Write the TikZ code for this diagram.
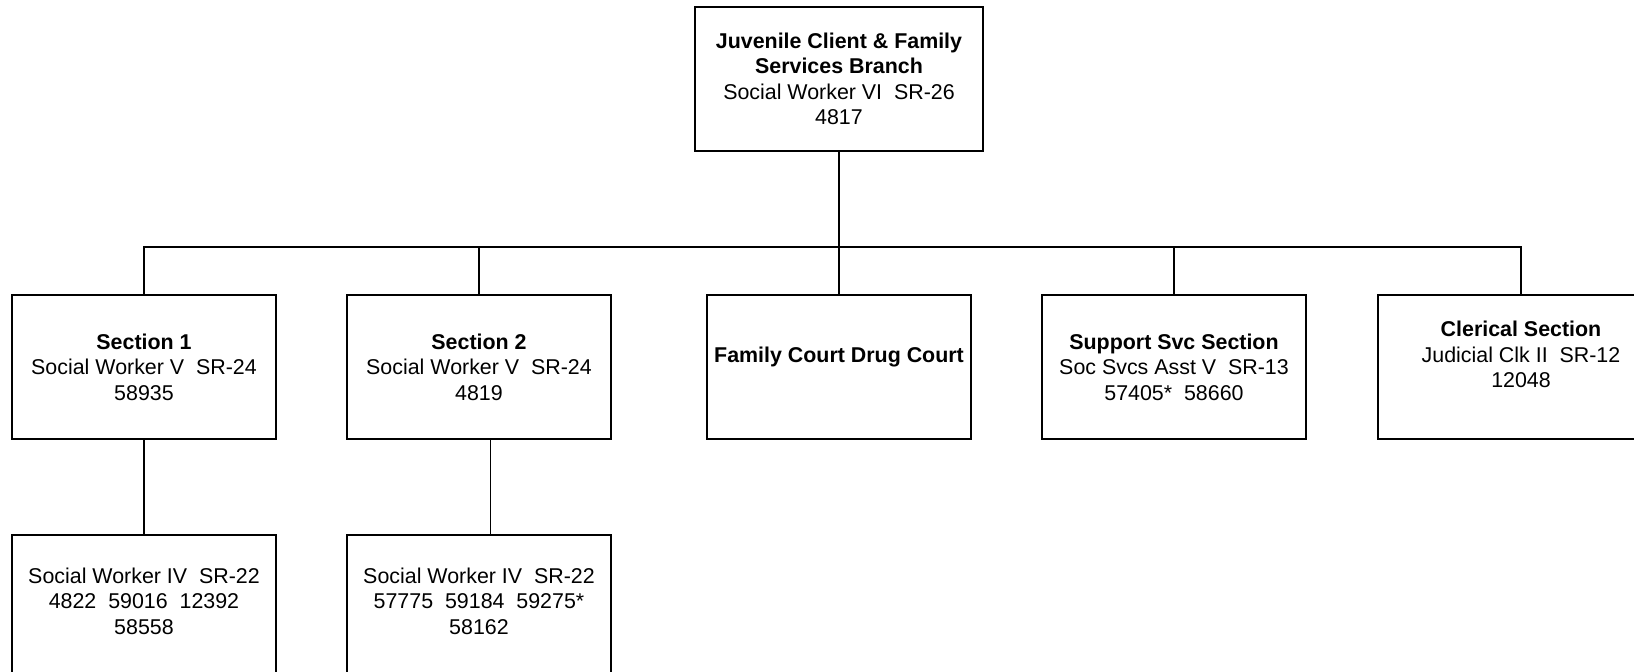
\documentclass[tikz,border=0pt]{standalone}
\usepackage{fontspec}
\setmainfont{Liberation Sans}
\usetikzlibrary{positioning}
\tikzset{
  orgbox/.style={draw, line width=0.9pt, align=center, inner sep=0pt, outer sep=0pt,
    minimum width=132pt, minimum height=72pt,
    font=\fontsize{10.7}{12.7}\selectfont},
  headbox/.style={orgbox, minimum width=144pt},
  link/.style={line width=0.9pt}
}

\begin{document}
\begin{tikzpicture}[x=0.5pt, y=-0.5pt]
    \useasboundingbox (0,0) rectangle (1634,671);
    % branch head
    \node[headbox] (branch) at (839,79) {\textbf{Juvenile Client \& Family}\\\textbf{Services Branch}\\Social Worker VI~~SR-26\\4817};
    % sections
    \node[orgbox] (sec1) at (144,367) {\textbf{Section 1}\\Social Worker V~~SR-24\\58935};
    \node[orgbox, right=35.5pt of sec1] (sec2) {\textbf{Section 2}\\Social Worker V~~SR-24\\4819};
    \node[orgbox, right=48pt of sec2] (drug) {\textbf{Family Court Drug Court}\\\mbox{}};
    \node[orgbox, right=35.5pt of drug] (support) {\textbf{Support Svc Section}\\Soc Svcs Asst V~~SR-13\\57405*~~58660};
    \node[orgbox, minimum width=143pt, right=36pt of support] (clerical) {\textbf{Clerical Section}\\Judicial Clk II~~SR-12\\12048\\\mbox{}};
    % staff under sections 1 and 2
    \node[orgbox, below=47.8pt of sec1] (staff1) {Social Worker IV~~SR-22\\4822~~59016~~12392\\58558\\[-7pt]\mbox{}};
    \node[orgbox, below=47.8pt of sec2] (staff2) {Social Worker IV~~SR-22\\57775~~59184~~59275*\\58162\\[-7pt]\mbox{}};

    \coordinate (bus) at (839,247);
    \draw[link] (branch.south) -- (bus);
    \draw[link] (sec1.north) |- (clerical.north |- bus) -- (clerical.north);
    \foreach \unit in {sec2,drug,support}
      \draw[link] (\unit.north) -- (\unit.north |- bus);
    \draw[link] (sec1.south) -- (staff1.north);
    \draw[link] ([xshift=5.75pt]sec2.south) -- ([xshift=5.75pt]staff2.north);
\end{tikzpicture}
\end{document}
